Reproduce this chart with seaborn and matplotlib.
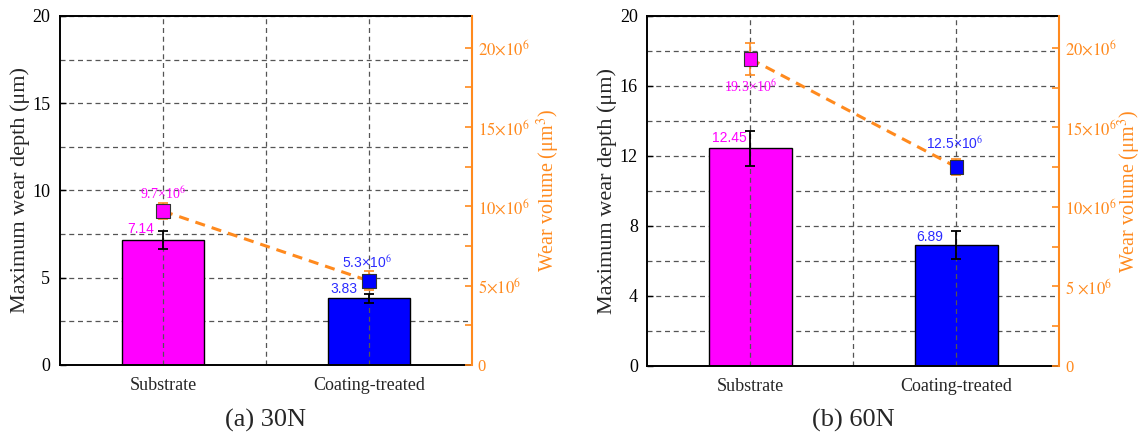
import matplotlib
matplotlib.use("Agg")
import matplotlib.pyplot as plt
from matplotlib.ticker import MultipleLocator, FixedLocator
import numpy as np
import pandas as pd
import seaborn as sns

# ---- data ----------------------------------------------------------------
categories = ["Substrate", "Coating-treated"]

depth_30N = [7.14, 3.83]          # maximum wear depth, μm
depth_err_30N = [0.52, 0.25]
volume_30N = [9.7, 5.3]           # wear volume, ×10^6 μm³
volume_err_30N = [0.5, 0.6]

depth_60N = [12.45, 6.89]
depth_err_60N = [1.0, 0.8]
volume_60N = [19.3, 12.5]
volume_err_60N = [1.0, 0.5]

depth_ticks_30N = [0, 5, 10, 15, 20]
depth_ticks_60N = [0, 4, 8, 12, 16, 20]
volume_ticks = [0, 5, 10, 15, 20]
volume_ticklabels_30N = ["0", r"$5{\times}10^{6}$", r"$10{\times}10^{6}$",
                         r"$15{\times}10^{6}$", r"$20{\times}10^{6}$"]
volume_ticklabels_60N = ["0", r"$5\ {\times}10^{6}$", r"$10{\times}10^{6}$",
                         r"$15{\times}10^{6}$", r"$20{\times}10^{6}$"]
captions = ["(a) 30N", "(b) 60N"]

# ---- style ---------------------------------------------------------------
sns.set_style("white")
plt.rcParams["font.family"] = ["Liberation Serif", "DejaVu Serif"]
plt.rcParams["mathtext.fontset"] = "stix"

MAGENTA = "#FF00FF"
BLUE = "#0000FF"
LABEL_BLUE = "#2B2BFF"
ORANGE = "#FF8A1E"
GRID = "#555555"
bar_colors = [MAGENTA, BLUE]
label_colors = [MAGENTA, LABEL_BLUE]
volume_label_fonts = ["Liberation Serif", "Liberation Sans"]

fig = plt.figure(figsize=(11.45, 4.37), dpi=100)

panels = [
    dict(rect=[0.0524, 0.1648, 0.3598, 0.7986], depth=depth_30N, derr=depth_err_30N,
         vol=volume_30N, verr=volume_err_30N, dticks=depth_ticks_30N, dminor=2.5,
         vlabels=volume_ticklabels_30N, vlab_x=1.152,
         depth_off=[(-22, 11), (-25, 9)], vol_off=[(0, 18), (-2, 18)]),
    dict(rect=[0.5655, 0.1625, 0.3598, 0.8010], depth=depth_60N, derr=depth_err_60N,
         vol=volume_60N, verr=volume_err_60N, dticks=depth_ticks_60N, dminor=2,
         vlabels=volume_ticklabels_60N, vlab_x=1.138,
         depth_off=[(-21, 10), (-27, 8)], vol_off=[(0, -28), (-2, 24)]),
]

pos = np.arange(len(categories))

for p, cap in zip(panels, captions):
    ax = fig.add_axes(p["rect"])
    df = pd.DataFrame({"category": categories, "depth": p["depth"]})
    sns.barplot(data=df, x="category", y="depth", hue="category", palette=bar_colors,
                width=0.4, edgecolor="black", linewidth=1.0, saturation=1,
                errorbar=None, legend=False, ax=ax)
    ax.errorbar(pos, p["depth"], yerr=p["derr"], fmt="none", ecolor="black",
                elinewidth=1.3, capsize=3.5, capthick=1.3, zorder=4)

    ax.set_xlim(-0.5, 1.5)
    ax.set_ylim(0, 20)
    ax.set_yticks(p["dticks"])
    ax.yaxis.set_minor_locator(MultipleLocator(p["dminor"]))
    ax.set_axisbelow(True)
    ax.grid(axis="y", which="both", linestyle=(0, (4, 3)), color=GRID, linewidth=0.9)
    for xv in [0, 0.5, 1]:
        ax.axvline(xv, linestyle=(0, (4, 3)), color=GRID, linewidth=0.9, zorder=2.5)

    ax.set_xlabel("")
    ax.set_ylabel("Maximum wear depth (μm)", fontsize=16)
    ax.yaxis.set_label_coords(-0.074, 0.5)
    ax.tick_params(axis="y", which="major", direction="in", length=4, width=1.0,
                   labelsize=13, pad=7, colors="black")
    ax.tick_params(axis="y", which="minor", length=0)
    ax.tick_params(axis="x", direction="in", length=4, labelsize=13, pad=9)
    for s in ["left", "bottom", "top"]:
        ax.spines[s].set_color("black")
        ax.spines[s].set_linewidth(1.4)
    ax.spines["right"].set_visible(False)

    for i, v in enumerate(p["depth"]):
        ax.annotate(f"{v:.2f}", xy=(pos[i], v), xytext=p["depth_off"][i],
                    textcoords="offset pixels", ha="center", va="center",
                    color=label_colors[i], fontsize=10, family="Liberation Sans",
                    zorder=6)

    # wear volume on the secondary axis
    ax2 = ax.twinx()
    ax2.set_ylim(0, 22)
    ax2.errorbar(pos, p["vol"], yerr=p["verr"], fmt="none", ecolor=ORANGE,
                 elinewidth=1.2, capsize=3.5, capthick=1.2, zorder=3)
    line, = ax2.plot(pos, p["vol"], color=ORANGE, linewidth=2.2, zorder=2)
    line.set_dashes((3.3, 2.3))
    sns.scatterplot(x=pos, y=p["vol"], hue=categories, palette=bar_colors,
                    marker="s", s=95, edgecolor="#333333", linewidth=0.8,
                    legend=False, ax=ax2, zorder=5)
    ax2.yaxis.set_major_locator(FixedLocator(volume_ticks))
    ax2.set_yticklabels(p["vlabels"])
    ax2.yaxis.set_minor_locator(MultipleLocator(2.5))
    ax2.tick_params(axis="y", which="both", direction="in", length=5, width=1.2,
                    colors=ORANGE, labelsize=12, pad=4)
    ax2.set_ylabel(r"Wear volume (μm$^{3}$)", fontsize=14.5, color=ORANGE, rotation=90)
    ax2.yaxis.set_label_coords(p["vlab_x"], 0.5)
    ax2.spines["right"].set_color(ORANGE)
    ax2.spines["right"].set_linewidth(1.5)
    for s in ["left", "bottom", "top"]:
        ax2.spines[s].set_visible(False)

    for i, v in enumerate(p["vol"]):
        ax2.annotate(f"{v}×10$^{{6}}$", xy=(pos[i], v), xytext=p["vol_off"][i],
                     textcoords="offset pixels", ha="center", va="center",
                     color=label_colors[i], fontsize=10,
                     family=volume_label_fonts[i], zorder=6)

    x0, w = p["rect"][0], p["rect"][2]
    fig.text(x0 + w / 2, 0.037, cap, ha="center", va="center", fontsize=19)

fig.savefig("out.png", dpi=100)
